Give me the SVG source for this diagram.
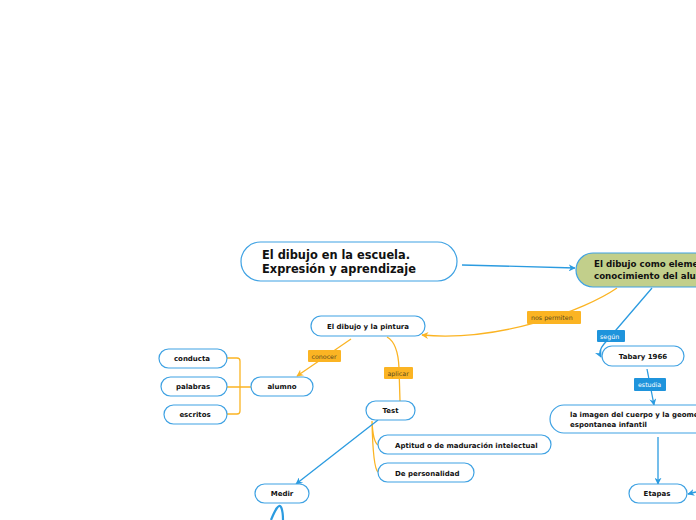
<svg xmlns="http://www.w3.org/2000/svg" width="696" height="520" viewBox="0 0 696 520">
<defs>
<style>
.n{fill:#fff;stroke:#3fa2e3;stroke-width:1.2}
.t{font-family:"DejaVu Sans",Verdana,sans-serif;font-weight:bold;fill:#111}
.s{font-size:7px}
.cb{fill:none;stroke:#2b9be0;stroke-width:1.3}
.co{fill:none;stroke:#fbb423;stroke-width:1.3}
.lo{fill:#fbb423}
.lb{fill:#1f94dc}
.lt{font-family:"DejaVu Sans",Verdana,sans-serif;font-size:6.3px}
</style>
<marker id="ab" viewBox="0 0 10 10" refX="9" refY="5" markerWidth="7" markerHeight="7" orient="auto" markerUnits="userSpaceOnUse"><path d="M0,0 L10,5 L0,10 L3,5 Z" fill="#2b9be0"/></marker>
<marker id="ao" viewBox="0 0 10 10" refX="9" refY="5" markerWidth="7" markerHeight="7" orient="auto" markerUnits="userSpaceOnUse"><path d="M0,0 L10,5 L0,10 L3,5 Z" fill="#fbb423"/></marker>
</defs>
<rect width="696" height="520" fill="#fff"/>
<g id="connectors">
<path class="cb" d="M462,265 L575,268" marker-end="url(#ab)"/>
<path class="co" d="M617,288 C585,310 500,342 422,335" marker-end="url(#ao)"/>
<path class="cb" d="M652,288 L604,344 Q598,351 601,357" marker-end="url(#ab)"/>
<path class="cb" d="M647,369 L654,405" marker-end="url(#ab)"/>
<path class="cb" d="M658,437 L658,484" marker-end="url(#ab)"/>
<path class="cb" d="M696,492 L688,494" marker-end="url(#ab)"/>
<path class="co" d="M351,339 L297,376" marker-end="url(#ao)"/>
<path class="co" d="M251,387 L240,387 M227,358 L237,358 Q240,358 240,361 L240,411 Q240,414 237,414 L227,414 M227,387 L240,387"/>
<path class="co" d="M387,337 Q398,343 399,368 L400,401"/>
<path class="co" d="M372,421 Q373,442 378,445 M372,421 Q373,468 378,472"/>
<path class="cb" d="M378,420 L296,484" marker-end="url(#ab)"/>
<path d="M271,520 C275,510 279,503 281,507 C283,511 283,516 283,520" fill="none" stroke="#2b9be0" stroke-width="2.2"/>
<g id="lbl-nos"><rect class="lo" x="527" y="311" width="54" height="13" rx="1"/><text class="lt" x="531" y="320" fill="#5a4a1e">nos permiten</text></g>
<g id="lbl-segun"><rect class="lb" x="597" y="330" width="28" height="12" rx="1"/><text class="lt" x="600" y="338.5" fill="#fff">según</text></g>
<g id="lbl-estudia"><rect class="lb" x="634" y="378" width="32" height="13" rx="1"/><text class="lt" x="638" y="387" fill="#fff">estudia</text></g>
<g id="lbl-conocer"><rect class="lo" x="308" y="350" width="33" height="12" rx="1"/><text class="lt" x="311.5" y="358.5" fill="#5a4a1e">conocer</text></g>
<g id="lbl-aplicar"><rect class="lo" x="384" y="367" width="29" height="12" rx="1"/><text class="lt" x="387.5" y="375.5" fill="#5a4a1e">aplicar</text></g>
</g>
<g id="main"><rect class="n" x="241" y="242" width="216" height="39" rx="19.5"/><text class="t" x="262" y="258.5" font-size="11.4">El dibujo en la escuela.</text><text class="t" x="262" y="272.5" font-size="11.4">Expresión y aprendizaje</text></g>
<g id="conocimiento"><rect x="576" y="253" width="140" height="34" rx="17" fill="#c2cf8b" stroke="#3fa2e3" stroke-width="1.2"/><text class="t" x="594" y="267" font-size="8.7">El dibujo como elemento de</text><text class="t" x="594" y="278.5" font-size="8.7">conocimiento del alumno</text></g>
<g id="pintura"><rect class="n" x="311" y="316" width="114" height="20" rx="10"/><text class="t s" x="368" y="329" text-anchor="middle">El dibujo y la pintura</text></g>
<g id="tabary"><rect class="n" x="602" y="346" width="82" height="20" rx="10"/><text class="t s" x="643" y="359" text-anchor="middle">Tabary 1966</text></g>
<g id="imagen"><rect class="n" x="550" y="405" width="170" height="28" rx="14"/><text class="t s" x="570" y="417">la imagen del cuerpo y la geometría</text><text class="t s" x="570" y="427">espontanea infantil</text></g>
<g id="etapas"><rect class="n" x="629" y="484" width="58" height="19" rx="9.5"/><text class="t s" x="657" y="496" text-anchor="middle">Etapas</text></g>
<g id="alumno"><rect class="n" x="251" y="377" width="62" height="19" rx="9.5"/><text class="t s" x="282" y="389" text-anchor="middle">alumno</text></g>
<g id="conducta"><rect class="n" x="159" y="349" width="68" height="19" rx="9.5"/><text class="t s" x="192" y="361" text-anchor="middle">conducta</text></g>
<g id="palabras"><rect class="n" x="161" y="377" width="66" height="19" rx="9.5"/><text class="t s" x="193" y="389" text-anchor="middle">palabras</text></g>
<g id="escritos"><rect class="n" x="164" y="405" width="63" height="19" rx="9.5"/><text class="t s" x="195" y="417" text-anchor="middle">escritos</text></g>
<g id="test"><rect class="n" x="366" y="401" width="49" height="19" rx="9.5"/><text class="t s" x="390.5" y="413" text-anchor="middle">Test</text></g>
<g id="aptitud"><rect class="n" x="378" y="435" width="173" height="19" rx="9.5"/><text class="t s" x="395" y="448">Aptitud o de maduración intelectual</text></g>
<g id="personalidad"><rect class="n" x="378" y="463" width="96" height="19" rx="9.5"/><text class="t s" x="395" y="476">De personalidad</text></g>
<g id="medir"><rect class="n" x="255" y="484" width="54" height="19" rx="9.5"/><text class="t s" x="282" y="496" text-anchor="middle">Medir</text></g>
</svg>
